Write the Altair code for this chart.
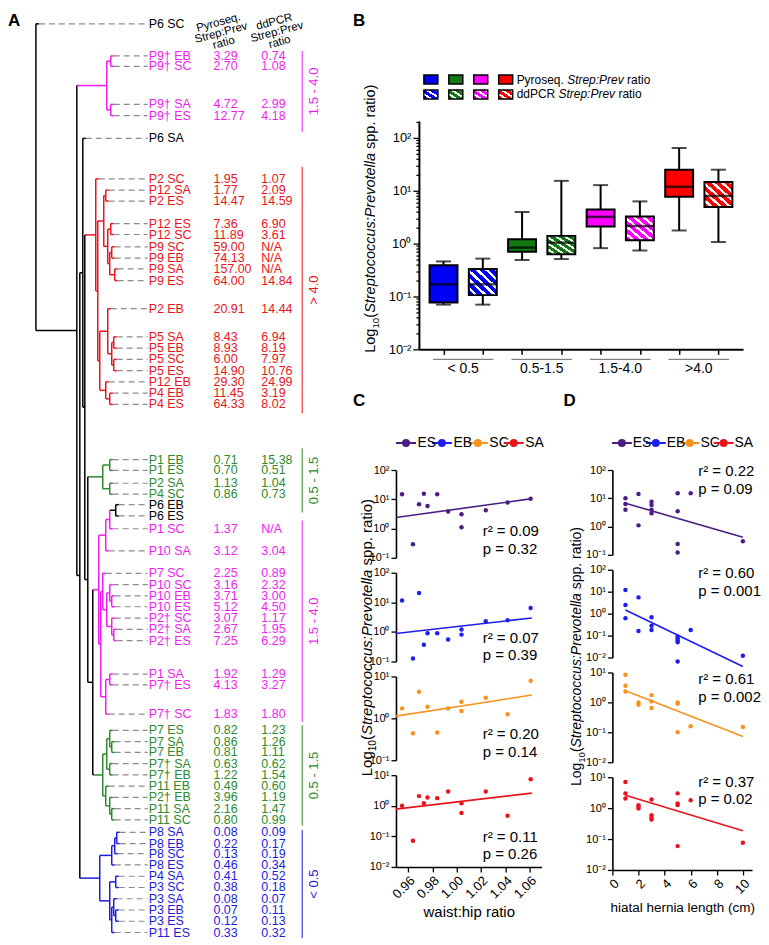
import altair as alt
import pandas as pd

FONT = "Liberation Sans"

# ======================= Panel A data =======================
LEAF_NAMES = ["P6 SC", "P9† EB", "P9† SC", "P9† SA", "P9† ES", "P6 SA",
              "P2 SC", "P12 SA", "P2 ES", "P12 ES", "P12 SC", "P9 SC", "P9 EB", "P9 SA", "P9 ES", "P2 EB",
              "P5 SA", "P5 EB", "P5 SC", "P5 ES", "P12 EB", "P4 EB", "P4 ES",
              "P1 EB", "P1 ES", "P2 SA", "P4 SC", "P6 EB", "P6 ES",
              "P1 SC", "P10 SA", "P7 SC", "P10 SC", "P10 EB", "P10 ES", "P2† SC", "P2† SA", "P2† ES",
              "P1 SA", "P7† ES", "P7† SC",
              "P7 ES", "P7 SA", "P7 EB", "P7† SA", "P7† EB", "P11 EB", "P2† EB", "P11 SA", "P11 SC",
              "P8 SA", "P8 EB", "P8 SC", "P8 ES", "P4 SA", "P3 SC", "P3 SA", "P3 EB", "P3 ES", "P11 ES"]
LEAF_ROWS = [0, 2.85, 3.77, 7.15, 8.15, 10.17,
             13.77, 14.77, 15.74, 17.74, 18.71, 19.8, 20.8, 21.77, 22.8, 25.3,
             27.8, 28.8, 29.8, 30.8, 31.8, 32.8, 33.8,
             38.7, 39.66, 40.8, 41.77, 42.7, 43.7,
             44.84, 46.8, 48.8, 49.8, 50.8, 51.77, 52.78, 53.77, 54.77, 57.75, 58.7, 61.3,
             62.75, 63.75, 64.7, 65.7, 66.7, 67.7, 68.7, 69.7, 70.7,
             71.8, 72.8, 73.7, 74.7, 75.7, 76.7, 77.7, 78.7, 79.7, 80.7]
LEAF_GROUP = (["k", "m", "m", "m", "m", "k"] + ["r"] * 17 + ["g"] * 4 + ["k", "k"]
              + ["m"] * 12 + ["g"] * 9 + ["b"] * 10)
PYRO = ["", "3.29", "2.70", "4.72", "12.77", "",
        "1.95", "1.77", "14.47", "7.36", "11.89", "59.00", "74.13", "157.00", "64.00", "20.91",
        "8.43", "8.93", "6.00", "14.90", "29.30", "11.45", "64.33",
        "0.71", "0.70", "1.13", "0.86", "", "",
        "1.37", "3.12", "2.25", "3.16", "3.71", "5.12", "3.07", "2.67", "7.25", "1.92", "4.13", "1.83",
        "0.82", "0.86", "0.81", "0.63", "1.22", "0.49", "3.96", "2.16", "0.80",
        "0.08", "0.22", "0.13", "0.46", "0.41", "0.38", "0.08", "0.07", "0.12", "0.33"]
DDPCR = ["", "0.74", "1.08", "2.99", "4.18", "",
         "1.07", "2.09", "14.59", "6.90", "3.61", "N/A", "N/A", "N/A", "14.84", "14.44",
         "6.94", "8.19", "7.97", "10.76", "24.99", "3.19", "8.02",
         "15.38", "0.51", "1.04", "0.73", "", "",
         "N/A", "3.04", "0.89", "2.32", "3.00", "4.50", "1.17", "1.95", "6.29", "1.29", "3.27", "1.80",
         "1.23", "1.26", "1.11", "0.62", "1.54", "0.60", "1.19", "1.47", "0.99",
         "0.09", "0.17", "0.19", "0.34", "0.52", "0.18", "0.07", "0.11", "0.13", "0.32"]
BRACKET_LABELS = ["1.5 - 4.0", "> 4.0", "0.5 - 1.5", "1.5 - 4.0", "0.5 - 1.5", "< 0.5"]
BRACKET_GROUP = ["m", "r", "g", "m", "g", "b"]
BRACKET_START = [2.4, 12.7, 37.7, 44.1, 62.3, 71.6]
BRACKET_END = [9.6, 34.6, 43.4, 62.0, 71.2, 81.2]


def N(h, kids, c=None):
    return {"h": h, "c": c, "kids": kids}


# merge heights of the hierarchical clustering (leaves at height 0)
TREE = N(112, [
    "P6 SC",
    N(71, [
        N(41, [N(37, ["P9† EB", "P9† SC"]), N(37, ["P9† SA", "P9† ES"])], "m"),
        N(68, [
            N(65, [
                "P6 SA",
                N(63, [
                    N(52, ["P2 SC",
                           N(50, [
                               N(44, [N(42, ["P12 SA", "P2 ES"]),
                                      N(40, [N(37, ["P12 ES", "P12 SC"]),
                                             N(38, [N(36, ["P9 SC", "P9 EB"]), N(33, ["P9 SA", "P9 ES"])])])]),
                               N(48, [N(40, ["P2 EB", N(36, [N(34, ["P5 SA", "P5 EB"]), N(34, ["P5 SC", "P5 ES"])])]),
                                      N(42, ["P12 EB", N(38, ["P4 EB", "P4 ES"])])])])], "r"),
                    N(60, [
                        N(45, [N(38, ["P1 EB", "P1 ES"]), N(38, ["P2 SA", "P4 SC"])], "g"),
                        N(55, [
                            N(49, [
                                N(42, [N(38, [N(32, ["P6 EB", "P6 ES"], "k"), "P1 SC"]), "P10 SA"]),
                                N(47, [
                                    N(45, ["P7 SC", N(41, [N(38, ["P10 SC", N(36, ["P10 EB", "P10 ES"])]),
                                                           N(36, ["P2† SC", N(34, ["P2† SA", "P2† ES"])])])]),
                                    N(42, [N(38, ["P1 SA", "P7† ES"]), "P7† SC"])])], "m"),
                            N(45, [
                                N(41, [N(38, ["P7 ES", N(36, ["P7 SA", "P7 EB"])]), N(38, ["P7† SA", "P7† EB"])]),
                                N(42, ["P11 EB", N(38, ["P2† EB", N(36, ["P11 SA", "P11 SC"])])])], "g")])])])]),
            N(48, [
                N(36, [N(33, [N(31, ["P8 SA", "P8 EB"]), "P8 SC"]), "P8 ES"]),
                N(38, [N(32, ["P4 SA", "P3 SC"]), N(36, [N(34, ["P3 SA", N(32, ["P3 EB", "P3 ES"])]), "P11 ES"])])],
              "b")])])])

# ======================= Panel B data =======================
BOX_GROUP = ["< 0.5", "< 0.5", "0.5-1.5", "0.5-1.5", "1.5-4.0", "1.5-4.0", ">4.0", ">4.0"]
BOX_METHOD = ["Pyroseq.", "ddPCR"] * 4
BOX_MIN = [0.07, 0.07, 0.49, 0.51, 0.82, 0.74, 1.77, 1.07]
BOX_Q1 = [0.077, 0.106, 0.70, 0.63, 2.1, 1.16, 7.7, 4.9]
BOX_MED = [0.17, 0.17, 0.84, 1.04, 3.2, 2.15, 11.9, 7.97]
BOX_Q3 = [0.39, 0.33, 1.21, 1.40, 4.4, 3.24, 25.0, 14.6]
BOX_MAX = [0.46, 0.52, 3.96, 15.38, 12.77, 6.29, 64.33, 24.99]
GROUP_LABELS = ["< 0.5", "0.5-1.5", "1.5-4.0", ">4.0"]
METHODS = ["Pyroseq.", "ddPCR"]

# ======================= Panels C / D data =======================
SERIES = ["ES", "EB", "SC", "SA"]
WH_X = {
    "ES": [0.955, 0.964, 0.969, 0.973, 0.976, 0.984, 0.993, 1.004, 1.004, 1.024, 1.042, 1.061],
    "EB": [0.955, 0.964, 0.969, 0.973, 0.976, 0.984, 0.993, 1.004, 1.004, 1.024, 1.042, 1.061],
    "SC": [0.955, 0.964, 0.969, 0.976, 0.984, 0.993, 1.004, 1.004, 1.024, 1.042, 1.061],
    "SA": [0.955, 0.964, 0.969, 0.973, 0.976, 0.984, 0.993, 1.004, 1.004, 1.024, 1.042, 1.061],
}
WH_Y = {
    "ES": [14.8, 0.29, 6.8, 15.5, 5.9, 14.8, 3.8, 3.1, 1.1, 4.2, 7.7, 10.5],
    "EB": [11.6, 0.126, 20.7, 0.37, 0.9, 0.9, 0.55, 1.2, 0.81, 2.28, 2.46, 6.45],
    "SC": [1.73, 0.44, 4.3, 1.9, 0.46, 1.73, 2.5, 1.49, 3.1, 1.26, 7.9],
    "SA": [1.0, 0.072, 2.07, 1.22, 1.87, 1.78, 2.94, 1.22, 0.58, 2.94, 0.47, 7.4],
}
HH_X = {
    "ES": [1, 1, 1, 2, 2, 3, 3, 3, 3, 5, 5, 5, 5, 6, 10],
    "EB": [1, 1, 1, 2, 2, 3, 3, 3, 5, 5, 5, 5, 5, 6, 10],
    "SC": [1, 1, 1, 2, 2, 3, 3, 3, 5, 5, 5, 6, 10],
    "SA": [1, 1, 1, 2, 2, 2, 3, 3, 3, 3, 5, 5, 5, 5, 6, 10],
}
HH_Y = {
    "ES": [10, 6.3, 3.9, 14.2, 1.1, 7.6, 5.8, 3.9, 2.95, 15, 3.5, 0.24, 0.12, 15, 0.3],
    "EB": [11.9, 2.5, 0.61, 5.5, 0.16, 0.68, 0.28, 0.18, 0.09, 0.076, 0.059, 0.05, 0.0066, 0.18, 0.012],
    "SC": [8.4, 3.6, 2.3, 1.0, 0.84, 1.75, 1.08, 0.65, 1.0, 0.90, 0.1, 0.16, 0.15],
    "SA": [7.0, 3.0, 2.05, 1.25, 1.1, 0.98, 1.9, 0.59, 0.49, 0.43, 3.0, 1.41, 1.25, 0.059, 1.81, 0.076],
}
# fitted regression lines (end points)
WH_FIT_X = [0.95, 1.062]
WH_FIT_Y = {"ES": [2.37, 10.5], "EB": [0.88, 2.97], "SC": [1.13, 3.6], "SA": [0.78, 2.6]}
HH_FIT_X = [1, 10]
HH_FIT_Y = {"ES": [6.65, 0.42], "EB": [1.47, 0.0039], "SC": [2.45, 0.072], "SA": [2.6, 0.185]}
C_STATS = [("r² = 0.09", "p = 0.32"), ("r² = 0.07", "p = 0.39"), ("r² = 0.20", "p = 0.14"), ("r² = 0.11", "p = 0.26")]
D_STATS = [("r² = 0.22", "p = 0.09"), ("r² = 0.60", "p = 0.001"), ("r² = 0.61", "p = 0.002"), ("r² = 0.37", "p = 0.02")]
C_DOMAINS = [(0.1, 100), (0.1, 100), (0.1, 10), (0.01, 10)]
D_DOMAINS = [(0.1, 100), (0.01, 100), (0.01, 10), (0.01, 10)]
WH_TICKS = [0.96, 0.98, 1.00, 1.02, 1.04, 1.06]
HH_TICKS = [0, 2, 4, 6, 8, 10]

# ======================= styles =======================
COL = {"k": "#000000", "m": "#F01EF0", "r": "#E8141C", "g": "#2E8A2E", "b": "#1C1CDC"}
BOXCOL = {"b": "#0000F5", "g": "#137A13", "m": "#FF00FF", "r": "#FF0000"}
GROUP_KEY = {"< 0.5": "b", "0.5-1.5": "g", "1.5-4.0": "m", ">4.0": "r"}
SERCOL = {"ES": "#4B1D82", "EB": "#1E1EEE", "SC": "#F7931E", "SA": "#E8141C"}
ONE = pd.DataFrame({"one": [0]})
SUP_EXPR = ("datum.value >= 99 ? '10²' : datum.value >= 9 ? '10¹' : datum.value >= 0.9 ? '10⁰' : "
            "datum.value >= 0.09 ? '10⁻¹' : '10⁻²'")
DEC = [0.01, 0.1, 1, 10, 100]


def hatch(color, n, frac=0.62):
    stops = []
    for k in range(n):
        a, b, c = k / n, (k + frac) / n, (k + 1) / n
        stops += [alt.GradientStop(color=color, offset=a), alt.GradientStop(color=color, offset=b),
                  alt.GradientStop(color="white", offset=b), alt.GradientStop(color="white", offset=c)]
    return alt.LinearGradient(gradient="linear", stops=stops, x1=0, y1=1, x2=1, y2=0)


def ytitle(x_rel, y_rel, fs):
    sub = fs * 0.68
    pieces = [("Log", fs, "normal", 0, 1668 * fs / 1000, 0),
              ("10", sub, "normal", fs * 0.28, 1112 * sub / 1000, 0),
              ("(", fs, "normal", 0, 333 * fs / 1000, 0),
              ("Streptococcus:Prevotella", fs, "italic", 0, 11060 * fs / 1000, 0),
              ("spp. ratio)", fs, "normal", 0, 4446 * fs / 1000, 278 * fs / 1000)]
    total = sum(p[4] + p[5] for p in pieces)
    pos = -total / 2
    out = []
    for t, size, style, dy, w, pre in pieces:
        out.append(alt.Chart(ONE).mark_text(
            text=t, angle=270, align="left", baseline="alphabetic", fontSize=size, fontStyle=style,
            dx=pos + pre, dy=dy, font=FONT, color="black").encode(x=alt.value(x_rel), y=alt.value(y_rel)))
        pos += w + pre
    return out


def spacer(w, h, letter="", dx=0):
    return alt.Chart(ONE).mark_text(
        text=letter, fontSize=17, fontWeight="bold", align="left", baseline="top", font=FONT,
        color="black").encode(x=alt.value(dx), y=alt.value(2)).properties(width=w, height=h)


# ======================= Panel A =======================
row_of = dict(zip(LEAF_NAMES, LEAF_ROWS))
segs, dashes = [], []


def walk(node, pc):
    color = node["c"] or pc
    ys = []
    for k in node["kids"]:
        if isinstance(k, str):
            y = row_of[k]
            segs.append({"h1": node["h"], "h2": node["h"] - 3, "r1": y, "r2": y, "col": COL[color]})
            dashes.append({"h1": node["h"] - 3, "h2": 0, "r1": y, "r2": y})
        else:
            y, kh, kc = walk(k, color)
            segs.append({"h1": node["h"], "h2": kh, "r1": y, "r2": y, "col": COL[kc]})
        ys.append(y)
    segs.append({"h1": node["h"], "h2": node["h"], "r1": min(ys), "r2": max(ys), "col": COL[color]})
    return sum(ys) / len(ys), node["h"], color


walk(TREE, "k")
seg_df = pd.DataFrame(segs)
dash_df = pd.DataFrame(dashes)
leaf_df = pd.DataFrame({"name": LEAF_NAMES, "row": LEAF_ROWS, "pyro": PYRO, "dd": DDPCR,
                        "col": [COL[g] for g in LEAF_GROUP]})
br_df = pd.DataFrame({"lab": BRACKET_LABELS, "a": BRACKET_START, "b": BRACKET_END,
                      "col": [COL[g] for g in BRACKET_GROUP]})
br_df["mid"] = (br_df["a"] + br_df["b"]) / 2

HA = 926
TFS = 12.5
XD = alt.Scale(domain=[0, 140], reverse=True, nice=False, zero=False)
YA = alt.Scale(domain=[-1.12, 80.9], reverse=True, nice=False, zero=False)

dendro = alt.layer(
    alt.Chart(dash_df).mark_rule(strokeWidth=1.2, strokeDash=[6, 4], color="#8C8C8C").encode(
        x=alt.X("h1:Q", scale=XD, axis=None), x2="h2:Q",
        y=alt.Y("r1:Q", scale=YA, axis=None), y2="r2:Q"),
    alt.Chart(seg_df).mark_rule(strokeWidth=1.5).encode(
        x=alt.X("h1:Q", scale=XD, axis=None), x2="h2:Q",
        y=alt.Y("r1:Q", scale=YA, axis=None), y2="r2:Q",
        color=alt.Color("col:N", scale=None)),
    alt.Chart(ONE).mark_text(text="A", fontSize=17, fontWeight="bold", align="left", baseline="top",
                             font=FONT, color="black").encode(x=alt.value(0), y=alt.value(2)),
).properties(width=140, height=HA)

labels_col = alt.Chart(leaf_df).mark_text(align="left", baseline="middle", fontSize=TFS, font=FONT).encode(
    x=alt.value(1), y=alt.Y("row:Q", scale=YA, axis=None), text="name:N",
    color=alt.Color("col:N", scale=None)).properties(width=66, height=HA)

pyro_col = alt.layer(
    alt.Chart(leaf_df).mark_text(align="left", baseline="middle", fontSize=TFS, font=FONT).encode(
        x=alt.value(0), y=alt.Y("row:Q", scale=YA, axis=None), text="pyro:N",
        color=alt.Color("col:N", scale=None)),
    alt.Chart(ONE).mark_text(text=["Pyroseq.", "Strep:Prev", "ratio"], angle=345, align="center",
                             baseline="middle", fontSize=11.5, lineHeight=10.5, font=FONT, color="black").encode(
        x=alt.value(5), y=alt.Y(datum=-0.08, scale=YA, axis=None)),
).properties(width=48, height=HA)

dd_col = alt.layer(
    alt.Chart(leaf_df).mark_text(align="left", baseline="middle", fontSize=TFS, font=FONT).encode(
        x=alt.value(0), y=alt.Y("row:Q", scale=YA, axis=None), text="dd:N",
        color=alt.Color("col:N", scale=None)),
    alt.Chart(ONE).mark_text(text=["ddPCR", "Strep:Prev", "ratio"], angle=345, align="center",
                             baseline="middle", fontSize=11.5, lineHeight=10.5, font=FONT, color="black").encode(
        x=alt.value(13), y=alt.Y(datum=-0.15, scale=YA, axis=None)),
).properties(width=40, height=HA)

bracket_col = alt.layer(
    alt.Chart(br_df).mark_rule(strokeWidth=1).encode(
        x=alt.value(1), y=alt.Y("a:Q", scale=YA, axis=None), y2="b:Q", color=alt.Color("col:N", scale=None)),
    alt.Chart(br_df).mark_text(angle=270, align="center", baseline="middle", fontSize=13, font=FONT).encode(
        x=alt.value(13), y=alt.Y("mid:Q", scale=YA, axis=None), text="lab:N",
        color=alt.Color("col:N", scale=None)),
).properties(width=26, height=HA)

A_block = alt.hconcat(dendro, labels_col, pyro_col, dd_col, bracket_col, spacing=0, bounds="flush")

# ======================= Panel B =======================
bdf = pd.DataFrame({"pos": list(range(len(BOX_GROUP))), "grp": BOX_GROUP, "meth": BOX_METHOD,
                    "lo": BOX_MIN, "q1": BOX_Q1, "med": BOX_MED, "q3": BOX_Q3, "hi": BOX_MAX})
bdf["key"] = bdf["grp"].map(GROUP_KEY)
bdf["fill"] = bdf["key"].map(BOXCOL)
gdf = bdf.groupby("grp", sort=False)["pos"].agg(["min", "max"]).reindex(GROUP_LABELS).reset_index()
gdf["a"] = gdf["min"] - 0.27
gdf["b"] = gdf["max"] + 0.27
gdf["mid"] = (gdf["min"] + gdf["max"]) / 2

BSHIFT = 23          # B plot starts 23px right of the C plot column
BW, BH = 325, 229
XB = alt.Scale(domain=[-0.5, 7.5], range=[BSHIFT, BSHIFT + BW], nice=False, zero=False)
YB = alt.Scale(type="log", domain=[0.01, 209], nice=False)
MINOR = [round(d * k, 4) for d in DEC for k in range(2, 10) if d * k <= 209]
XAXB = alt.Axis(values=list(range(8)), labels=False, tickSize=5, title=None, domainWidth=2,
                tickWidth=1.5, grid=False)
YAXB = alt.Axis(values=DEC + MINOR, offset=-BSHIFT,
                labelExpr="indexof([0.01,0.1,1,10,100], datum.value) < 0 ? '' : (" + SUP_EXPR + ")",
                tickSize={"condition": {"test": "indexof([0.01,0.1,1,10,100], datum.value) >= 0", "value": 6},
                          "value": 3},
                title=None, domainWidth=2, tickWidth=1.3, labelFontSize=13, labelPadding=2,
                labelOverlap=False, labelFlush=False, grid=False)


def bx(field="pos"):
    return alt.X(f"{field}:Q", scale=XB, axis=XAXB)


def byy(field):
    return alt.Y(f"{field}:Q", scale=YB, axis=YAXB)


b_layers = [
    alt.Chart(bdf).mark_rule(color="black", strokeWidth=2).encode(x=bx(), y=byy("lo"), y2="hi:Q"),
    alt.Chart(bdf).mark_tick(orient="horizontal", size=15, thickness=2, color="black").encode(x=bx(), y=byy("lo")),
    alt.Chart(bdf).mark_tick(orient="horizontal", size=15, thickness=2, color="black").encode(x=bx(), y=byy("hi")),
    alt.Chart(bdf[bdf.meth == "Pyroseq."]).mark_bar(size=28, stroke="black", strokeWidth=2).encode(
        x=bx(), y=byy("q1"), y2="q3:Q", fill=alt.Fill("fill:N", scale=None)),
]
for k in ["b", "g", "m", "r"]:
    b_layers.append(alt.Chart(bdf[(bdf.meth == "ddPCR") & (bdf.key == k)]).mark_bar(
        size=28, fill=hatch(BOXCOL[k], 6), stroke="black", strokeWidth=2).encode(x=bx(), y=byy("q1"), y2="q3:Q"))
b_layers += [
    alt.Chart(bdf).mark_tick(orient="horizontal", size=28, thickness=2.5, color="black").encode(x=bx(), y=byy("med")),
    alt.Chart(gdf).mark_rule(color="#808080", strokeWidth=1.2).encode(x=bx("a"), x2="b:Q", y=alt.value(BH + 10)),
    alt.Chart(gdf).mark_text(fontSize=14, align="center", baseline="middle", font=FONT, color="black").encode(
        x=bx("mid"), y=alt.value(BH + 20), text="grp:N"),
]
b_layers += ytitle(BSHIFT - 44, 98, 14.5)
B_chart = alt.layer(*b_layers).properties(width=BSHIFT + BW, height=BH)

# legend of panel B
LEG_KEYS = ["b", "g", "m", "r"]
ldfB = pd.DataFrame([{"c": k, "meth": m, "fill": BOXCOL[k]} for m in METHODS for k in LEG_KEYS])
LBX = alt.Scale(type="band", domain=LEG_KEYS, paddingInner=0.44, paddingOuter=0,
                range=[BSHIFT + 5, BSHIFT + 5 + 89])
LBY = alt.Scale(type="band", domain=METHODS, paddingInner=0.4, paddingOuter=0)
legB_layers = [alt.Chart(ldfB[ldfB.meth == "Pyroseq."]).mark_rect(stroke="black", strokeWidth=1.5).encode(
    x=alt.X("c:N", scale=LBX, axis=None), y=alt.Y("meth:N", scale=LBY, axis=None),
    fill=alt.Fill("fill:N", scale=None))]
for k in LEG_KEYS:
    legB_layers.append(alt.Chart(ldfB[(ldfB.meth == "ddPCR") & (ldfB.c == k)]).mark_rect(
        fill=hatch(BOXCOL[k], 3), stroke="black", strokeWidth=1.5).encode(
        x=alt.X("c:N", scale=LBX, axis=None), y=alt.Y("meth:N", scale=LBY, axis=None)))
LFS = 12
for m, first_em in [("Pyroseq.", 3946), ("ddPCR", 3223)]:
    sp = 278 * LFS / 1000
    w1 = first_em * LFS / 1000
    w2 = 4724 * LFS / 1000
    row = pd.DataFrame({"c": ["r"], "meth": [m]})
    for t, style, dx in [(m, "normal", 4), ("Strep:Prev", "italic", 4 + w1 + sp),
                         ("ratio", "normal", 4 + w1 + sp + w2 + sp)]:
        legB_layers.append(alt.Chart(row).mark_text(
            text=t, fontStyle=style, align="left", baseline="middle", fontSize=LFS, dx=dx, font=FONT,
            color="black").encode(x=alt.X("c:N", scale=LBX, axis=None, bandPosition=1),
                                  y=alt.Y("meth:N", scale=LBY, axis=None)))
legB = alt.layer(*legB_layers).properties(width=BSHIFT + 5 + 89, height=24)

B_block = alt.vconcat(spacer(60, 42, "B", -43), legB, B_chart, spacing=22, bounds="flush")

# ======================= Panels C / D =======================
SYM = "M-1,0L1,0M0.3,0A0.3,0.3,0,1,1,-0.3,0A0.3,0.3,0,1,1,0.3,0Z"


def series_legend(pitch):
    ldf = pd.DataFrame({"s": SERIES, "c": [SERCOL[s] for s in SERIES]})
    sc = alt.Scale(type="band", domain=SERIES, paddingInner=0, paddingOuter=0)
    pts = alt.Chart(ldf).mark_point(shape=SYM, size=400, filled=True, opacity=1, strokeWidth=2).encode(
        x=alt.X("s:N", scale=sc, axis=None, bandPosition=0.28),
        fill=alt.Fill("c:N", scale=None), stroke=alt.Stroke("c:N", scale=None))
    txt = alt.Chart(ldf).mark_text(align="left", baseline="middle", fontSize=14, font=FONT, color="black").encode(
        x=alt.X("s:N", scale=sc, axis=None, bandPosition=0.6), text="s:N")
    return alt.layer(pts, txt).properties(width=pitch * 4, height=24)


def subpanel(xs, vs, fx, fy, ser, dom, h, w, xdom, bottom, xticks, xfmt, xtitle, xtfs, stats, sx, sy, extra):
    df = pd.DataFrame({"x": xs, "v": vs})
    fit = pd.DataFrame({"x": fx, "v": fy})
    c = SERCOL[ser]
    ysc = alt.Scale(type="log", domain=list(dom), nice=False)
    yax = alt.Axis(values=[d for d in DEC if dom[0] * 0.99 <= d <= dom[1] * 1.01], labelExpr=SUP_EXPR,
                   title=None, tickSize=5, tickWidth=1.3, domainWidth=1.6, labelFontSize=11,
                   labelPadding=2, labelOverlap=False, labelFlush=False, grid=False)
    xsc = alt.Scale(domain=list(xdom), nice=False, zero=False)
    if bottom:
        xax = alt.Axis(values=xticks, format=xfmt, labelAngle=-45, labelAlign="right", labelBaseline="top",
                       title=xtitle, titleFontSize=xtfs, titleFontWeight="normal", tickSize=5, tickWidth=1.3,
                       domainWidth=1.6, labelFontSize=13, labelFlush=False, labelOverlap=False, grid=False)
    else:
        xax = None
    X = alt.X("x:Q", scale=xsc, axis=xax)
    layers = [
        alt.Chart(fit).mark_line(color=c, strokeWidth=1.6).encode(x=X, y=alt.Y("v:Q", scale=ysc, axis=yax)),
        alt.Chart(df).mark_circle(size=20, color=c, opacity=1).encode(x=X, y=alt.Y("v:Q", scale=ysc, axis=yax)),
        alt.Chart(ONE).mark_text(text=stats[0], align="left", baseline="middle", fontSize=15, font=FONT,
                                 color="black").encode(x=alt.value(sx), y=alt.value(sy[0])),
        alt.Chart(ONE).mark_text(text=stats[1], align="left", baseline="middle", fontSize=15, font=FONT,
                                 color="black").encode(x=alt.value(sx), y=alt.value(sy[1])),
    ]
    return alt.layer(*(layers + extra)).properties(width=w, height=h)


C_H = [88, 89, 84, 92]
C_SY = [(61, 79), (65, 82), (58, 76), (62, 79)]
c_panels = []
for i, s in enumerate(SERIES):
    extra = ytitle(-24, 65, 15) if i == 1 else []
    c_panels.append(subpanel(WH_X[s], WH_Y[s], WH_FIT_X, WH_FIT_Y[s], s, C_DOMAINS[i], C_H[i], 146,
                             (0.95, 1.07), i == 3, WH_TICKS, ".2f", "waist:hip ratio", 15, C_STATS[i], 87,
                             C_SY[i], extra))
C_col = alt.vconcat(spacer(146, 25, "C", -43), series_legend(36), *c_panels, spacing=15, bounds="flush")

D_H = [85, 88, 90, 93]
D_SY = [(1, 19), (3, 21), (7, 25), (5, 22)]
d_panels = []
for i, s in enumerate(SERIES):
    extra = ytitle(-31, 87, 14) if i == 1 else []
    d_panels.append(subpanel(HH_X[s], HH_Y[s], HH_FIT_X, HH_FIT_Y[s], s, D_DOMAINS[i], D_H[i], 140,
                             (0, 10.7), i == 3, HH_TICKS, "d", "hiatal hernia length (cm)", 13.5, D_STATS[i],
                             86, D_SY[i], extra))
D_col = alt.vconcat(spacer(140, 25, "D", -49), series_legend(34), *d_panels, spacing=15, bounds="flush")

CD = alt.hconcat(C_col, D_col, spacing=19)
right = alt.vconcat(B_block, CD, spacing=15)

chart = alt.hconcat(A_block, right, spacing=26).properties(padding=0).configure(font=FONT).configure_view(
    strokeWidth=0).configure_axis(labelFont=FONT, titleFont=FONT, labelColor="black", titleColor="black",
                                  domainColor="black", tickColor="black", grid=False).configure_title(font=FONT)

chart.save("out.html", embed_options={"renderer": "svg", "actions": False})
